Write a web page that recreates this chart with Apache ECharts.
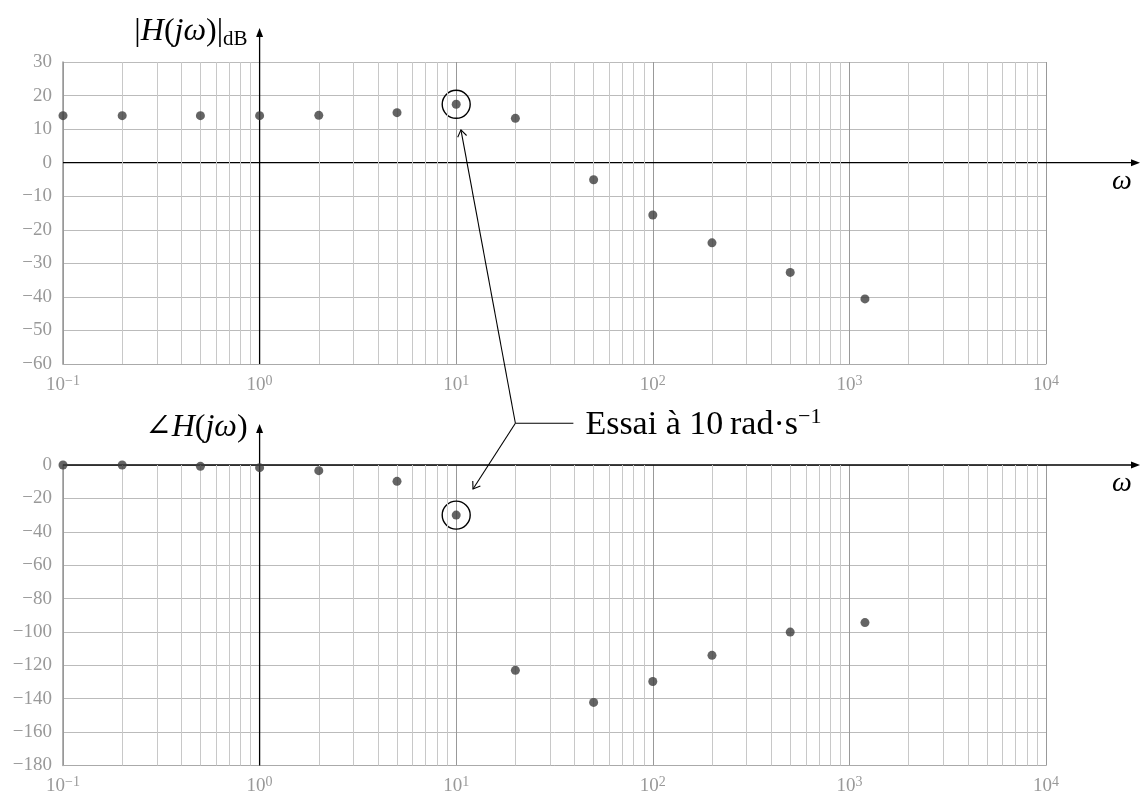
<!DOCTYPE html>
<html>
<head>
<meta charset="utf-8">
<script src="https://cdn.jsdelivr.net/npm/echarts@6/dist/echarts.min.js"></script>
<style>html,body{margin:0;padding:0;background:#fff}#main{width:1141px;height:796px}</style>
</head>
<body>
<div id="main"></div>
<script>
// pulsations (rad/s) des essais
var omega = [0.1, 0.2, 0.5, 1, 2, 5, 10, 20, 50, 100, 200, 500, 1200];
// gain mesuré en dB
var gainDb = [14.0, 14.0, 14.0, 14.0, 14.1, 14.9, 17.4, 13.2, -5.1, -15.6, -23.9, -32.7, -40.6];
// phase mesurée en degrés
var phaseDeg = [0, 0, -0.8, -1.6, -3.4, -9.8, -30, -123, -142.2, -129.7, -114, -100.1, -94.4];
var gainRange = [-60, 30];
var phaseRange = [-180, 0];
var omegaRange = [0.1, 10000];
var decades = [0.1, 1, 10, 100, 1000];
var minorMult = [2, 3, 4, 5, 6, 7, 8, 9];
var testOmega = 10;
var testLabel = 'Essai à 10\u2009rad·s{sup|−1}';

var chart = echarts.init(document.getElementById('main'));
var serif = '"Liberation Serif", "DejaVu Serif", serif';
var grey = '#999';

function xLabel(v) {
    var e = Math.round(Math.log10(v));
    return '{b|10}{s|' + (e < 0 ? '−' + (-e) : e) + '}';
}
function yLabel(v) { return v < 0 ? '−' + (-v) : '' + v; }

var minorLines = [];
decades.forEach(function (d) {
    minorMult.forEach(function (m) { minorLines.push({ xAxis: d * m }); });
});

function xAxisOpt(i) {
    return {
        type: 'log', gridIndex: i, logBase: 10, min: omegaRange[0], max: omegaRange[1],
        axisLine: { show: true, onZero: false, lineStyle: { color: '#aaa', width: 1 } },
        axisTick: { show: false },
        splitLine: { show: true, lineStyle: { color: '#999', width: 1 } },
        axisLabel: {
            formatter: xLabel, margin: 10, showMinLabel: true, showMaxLabel: true,
            rich: {
                b: { fontFamily: serif, fontSize: 19, color: grey, lineHeight: 22 },
                s: { fontFamily: serif, fontSize: 14, color: grey, lineHeight: 8, verticalAlign: 'top' }
            }
        }
    };
}
function yAxisOpt(i, range, step) {
    return {
        type: 'value', gridIndex: i, min: range[0], max: range[1], interval: step,
        axisLine: { show: true, onZero: false, lineStyle: { color: '#999', width: 1.5 } },
        axisTick: { show: false },
        splitLine: { show: true, lineStyle: { color: '#bbb', width: 1 } },
        axisLabel: { formatter: yLabel, margin: 11, color: grey, fontFamily: serif, fontSize: 19 }
    };
}
function minorSeries(i) {
    return {
        type: 'scatter', xAxisIndex: i, yAxisIndex: i, data: [], z: 1, silent: true,
        markLine: {
            silent: true, symbol: ['none', 'none'], label: { show: false },
            lineStyle: { color: '#c8c8c8', width: 1, type: 'solid' },
            emphasis: { disabled: true },
            data: minorLines
        }
    };
}

var option = {
    animation: false,
    grid: [
        { left: 63, right: 95, top: 62, height: 302 },
        { left: 63, right: 95, top: 465, height: 302 }
    ],
    xAxis: [xAxisOpt(0), xAxisOpt(1)],
    yAxis: [yAxisOpt(0, gainRange, 10), yAxisOpt(1, phaseRange, 20)],
    series: [
        minorSeries(0),
        minorSeries(1),
        {
            type: 'scatter', xAxisIndex: 0, yAxisIndex: 0, z: 5, symbolSize: 9,
            itemStyle: { color: '#3d3d3d' },
            data: omega.map(function (w, k) { return [w, gainDb[k]]; })
        },
        {
            type: 'scatter', xAxisIndex: 1, yAxisIndex: 1, z: 5, symbolSize: 9,
            itemStyle: { color: '#3d3d3d' },
            data: omega.map(function (w, k) { return [w, phaseDeg[k]]; })
        }
    ]
};
chart.setOption(option);

// axes noirs, titres et annotation, placés via les échelles
function px(g, x, y) { return chart.convertToPixel({ gridIndex: g }, [x, y]); }
var W = chart.getWidth();
var black = { stroke: '#000', lineWidth: 1.3 };
var els = [];

function axes(g, extra, title) {
    var tl = px(g, omegaRange[0], g ? phaseRange[1] : gainRange[1]);
    var bl = px(g, omegaRange[0], g ? phaseRange[0] : gainRange[0]);
    var o = px(g, 1, 0);
    var tip = tl[1] - extra;
    els.push({ type: 'line', z: 3, shape: { x1: o[0], y1: bl[1], x2: o[0], y2: tip + 4 }, style: black });
    els.push({ type: 'polygon', z: 3, shape: { points: [[o[0], tip], [o[0] - 3.5, tip + 9], [o[0] + 3.5, tip + 9]] }, style: { fill: '#000' } });
    els.push({ type: 'line', z: 3, shape: { x1: tl[0], y1: o[1], x2: W - 5, y2: o[1] }, style: black });
    els.push({ type: 'polygon', z: 3, shape: { points: [[W - 1, o[1]], [W - 10, o[1] - 3.5], [W - 10, o[1] + 3.5]] }, style: { fill: '#000' } });
    els.push({ type: 'text', z: 3, style: { text: 'ω', x: W - 19, y: o[1] + 19, align: 'center', verticalAlign: 'middle', font: 'italic 28px ' + serif, fill: '#000' } });
    els.push({ type: 'text', z: 3, style: {
        text: title, x: o[0] - 12, y: tip + 4, align: 'right', verticalAlign: 'middle',
        rich: {
            n: { fontFamily: serif, fontSize: 32, lineHeight: 36, fill: '#000' },
            i: { fontFamily: serif, fontStyle: 'italic', fontSize: 32, lineHeight: 36, fill: '#000' },
            sub: { fontFamily: serif, fontSize: 21, lineHeight: 12, verticalAlign: 'bottom', fill: '#000' }
        }
    } });
}
axes(0, 34, '{n||}{i|H}{n|(}{i|jω}{n|)|}{sub|dB}');
axes(1, 41, '{n|∠}{i|H}{n|(}{i|jω}{n|)}');

var k = omega.indexOf(testOmega);
var hit0 = px(0, testOmega, gainDb[k]);
var hit1 = px(1, testOmega, phaseDeg[k]);
var junc = px(1, 20, 25);

function callout(c, gap) {
    els.push({ type: 'circle', z: 3, shape: { cx: c[0], cy: c[1], r: 14 }, style: { stroke: '#000', lineWidth: 1.4, fill: null } });
    var dx = junc[0] - c[0], dy = junc[1] - c[1];
    var len = Math.sqrt(dx * dx + dy * dy);
    var ux = dx / len, uy = dy / len;
    var tx = c[0] + ux * gap, ty = c[1] + uy * gap;
    els.push({ type: 'line', z: 3, shape: { x1: junc[0], y1: junc[1], x2: tx, y2: ty }, style: { stroke: '#000', lineWidth: 1.1 } });
    var a = 0.6, L = 8;
    var p1 = [tx + L * (ux * Math.cos(a) - uy * Math.sin(a)), ty + L * (uy * Math.cos(a) + ux * Math.sin(a))];
    var p2 = [tx + L * (ux * Math.cos(a) + uy * Math.sin(a)), ty + L * (uy * Math.cos(a) - ux * Math.sin(a))];
    els.push({ type: 'polyline', z: 3, shape: { points: [p1, [tx, ty], p2] }, style: { stroke: '#000', lineWidth: 1.1, fill: null } });
}
callout(hit0, 26);
callout(hit1, 31);
els.push({ type: 'line', z: 3, shape: { x1: junc[0], y1: junc[1], x2: junc[0] + 58, y2: junc[1] }, style: { stroke: '#000', lineWidth: 1.1 } });
els.push({ type: 'text', z: 3, style: {
    text: testLabel, x: junc[0] + 70, y: junc[1] + 2, align: 'left', verticalAlign: 'middle',
    rich: {
        sup: { fontFamily: serif, fontSize: 22, lineHeight: 12, verticalAlign: 'top', fill: '#000' }
    },
    font: '34px ' + serif, fill: '#000', lineHeight: 38
} });

chart.setOption({ graphic: els });
</script>
</body>
</html>
